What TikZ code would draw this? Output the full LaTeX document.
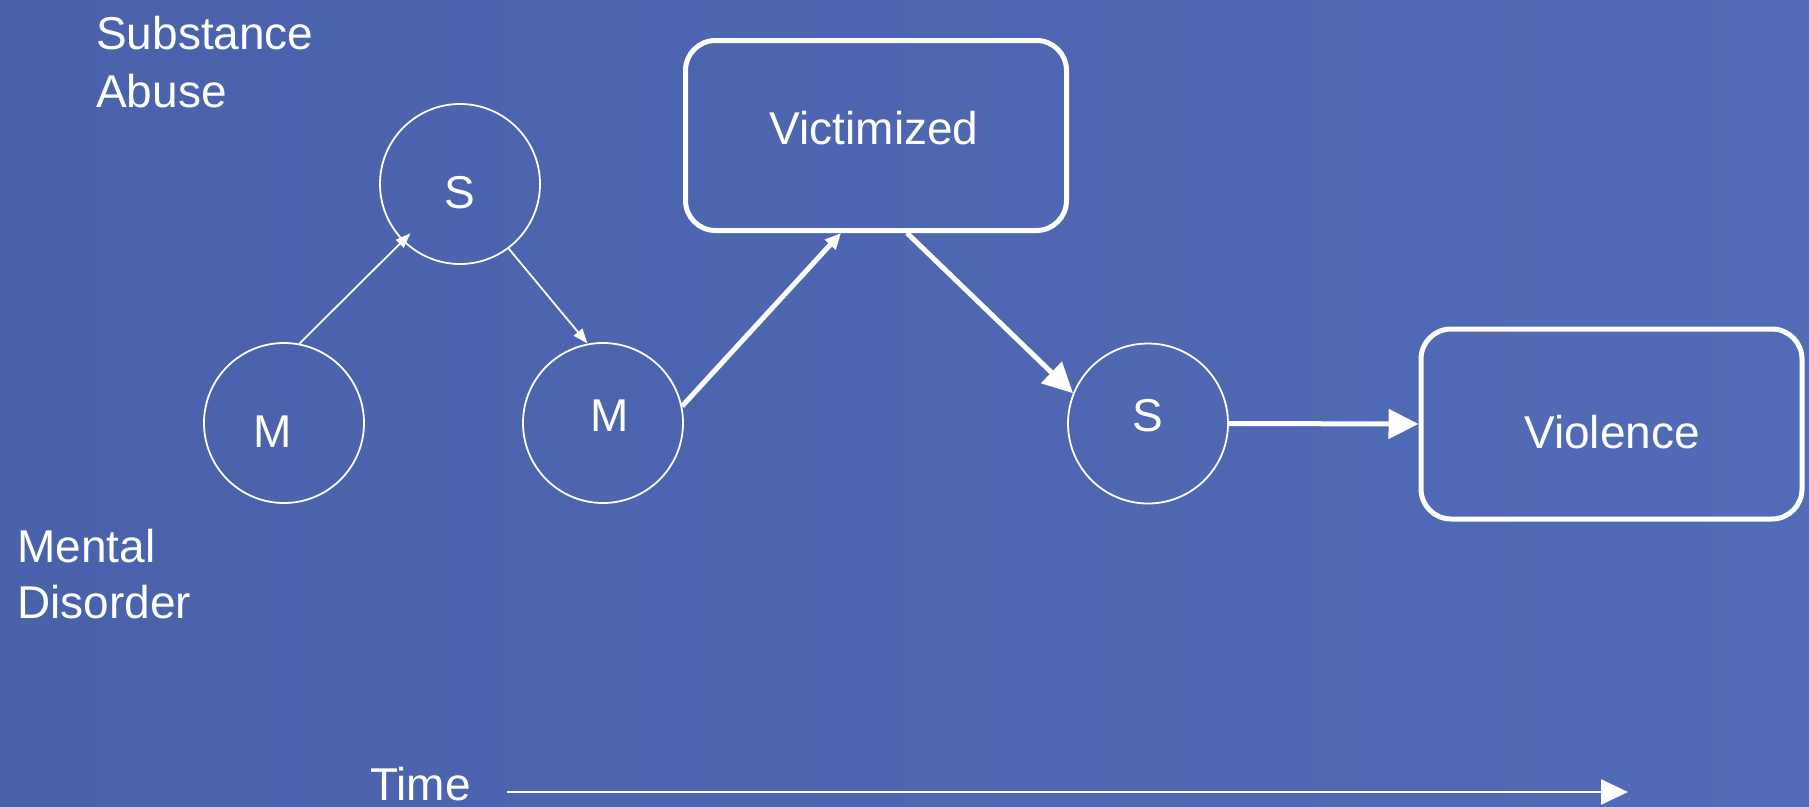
\documentclass[tikz,border=0pt]{standalone}
\usepackage{fontspec}
\setmainfont{Liberation Sans}
\usetikzlibrary{arrows.meta}
\definecolor{bgL}{HTML}{4A62AC}
\definecolor{bgR}{HTML}{526BB6}
\tikzset{
  circ/.style={circle, draw=white, line width=1.8pt, minimum size=160pt, inner sep=0pt},
  rbox/.style={rounded corners=30pt, draw=white, line width=5pt, minimum width=381pt, minimum height=190pt, inner sep=0pt},
  lbl/.style={text=white, inner sep=0pt, font=\fontsize{46}{58}\selectfont},
  thin/.style={white, line width=1.8pt, -{Triangle[length=15pt,width=11pt]}},
  thick/.style={white, line width=5pt, -{Triangle[length=30pt,width=29pt]}},
  thicksmall/.style={white, line width=5pt, -{Triangle[length=16pt,width=14pt]}},
  timearrow/.style={white, line width=2.5pt, -{Triangle[length=27pt,width=25pt]}},
}
\begin{document}
\begin{tikzpicture}[x=1pt,y=-1pt]
\shade[left color=bgL, right color=bgR] (0,0) rectangle (1809,806);
\useasboundingbox (0,0) rectangle (1809,806);
% nodes
\node[circ] (M1) at (284,423) {};
\node[circ] (S1) at (460,184) {};
\node[circ] (M2) at (603,423) {};
\node[circ] (S2) at (1148,423.5) {};
\node[rbox] (V) at (876,135.5) {};
\node[rbox] (VL) at (1611.5,424) {};
% texts
\node[lbl] (tM1) at (273,432) {M};
\node[lbl] (tS1) at (460,193) {S};
\node[lbl] (tM2) at (610,416) {M};
\node[lbl] (tS2) at (1148,416) {S};
\node[lbl] (tV) at (874,128) {Victimized};
\node[lbl] (tVL) at (1612,432) {Violence};
\node[lbl, anchor=base west] (sub1) at (96,49) {Substance};
\node[lbl, anchor=base west] (sub2) at (96,107) {Abuse};
\node[lbl, anchor=base west] (men1) at (17,562) {Mental};
\node[lbl, anchor=base west] (men2) at (17,618) {Disorder};
\node[lbl, anchor=base west, text depth=0pt] (time) at (370,800) {Time};
% connectors
\draw[thin, shorten >=-11pt] (M1.79) -- (S1);
\draw[thin] (S1.-53) -- (M2.101);
\draw[thicksmall] (M2.12) -- ([xshift=-35pt]V.south);
\draw[thick] ([xshift=31pt]V.south) -- (S2.158);
\draw[thick] (S2.east) -- (VL.west);
\coordinate (t0) at (507,792);
\coordinate (t1) at (1628,792);
\draw[timearrow] (t0) -- (t1);
\end{tikzpicture}
\end{document}
